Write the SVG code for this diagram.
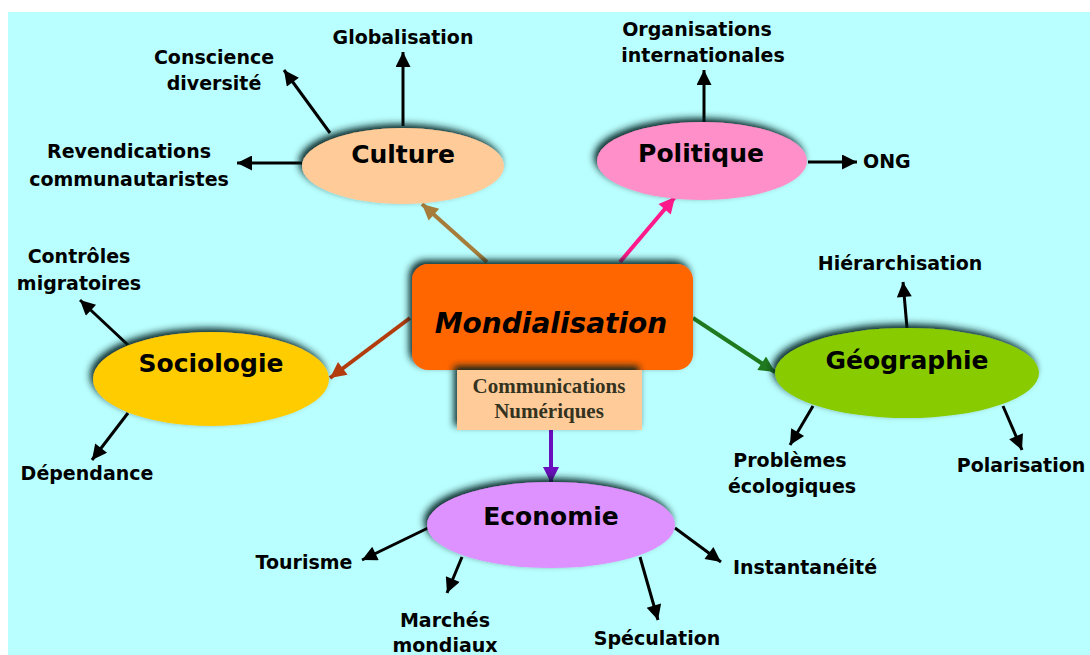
<svg xmlns="http://www.w3.org/2000/svg" width="1090" height="655" viewBox="0 0 1090 655">
<style>
.lbl{font-family:"DejaVu Sans","Liberation Sans",sans-serif;font-weight:bold;font-size:19px;fill:#000;text-anchor:middle}
.ttl{font-family:"DejaVu Sans","Liberation Sans",sans-serif;font-weight:bold;font-size:25px;fill:#000;text-anchor:middle}
.blk{stroke:#000;stroke-width:3;fill:none}
.col{stroke-width:4;fill:none}
</style>
<defs>
<filter id="sh" x="-20%" y="-40%" width="140%" height="170%">
<feGaussianBlur in="SourceAlpha" stdDeviation="3.5"/>
<feOffset dx="-3" dy="-4" result="b"/>
<feFlood flood-color="#001f1f" flood-opacity="0.95"/>
<feComposite in2="b" operator="in"/>
<feMerge><feMergeNode/><feMergeNode in="SourceGraphic"/></feMerge>
</filter>
<marker id="ak" viewBox="0 0 10 10" refX="10" refY="5" markerWidth="18" markerHeight="15" markerUnits="userSpaceOnUse" orient="auto"><path d="M0,0 L10,5 L0,10 z" fill="#000"/></marker>
<marker id="abr" viewBox="0 0 10 10" refX="10" refY="5" markerWidth="20" markerHeight="16" markerUnits="userSpaceOnUse" orient="auto"><path d="M0,0 L10,5 L0,10 z" fill="#A67C3A"/></marker>
<marker id="apk" viewBox="0 0 10 10" refX="10" refY="5" markerWidth="20" markerHeight="16" markerUnits="userSpaceOnUse" orient="auto"><path d="M0,0 L10,5 L0,10 z" fill="#FF1A8C"/></marker>
<marker id="ard" viewBox="0 0 10 10" refX="10" refY="5" markerWidth="20" markerHeight="16" markerUnits="userSpaceOnUse" orient="auto"><path d="M0,0 L10,5 L0,10 z" fill="#B33C0F"/></marker>
<marker id="agr" viewBox="0 0 10 10" refX="10" refY="5" markerWidth="20" markerHeight="16" markerUnits="userSpaceOnUse" orient="auto"><path d="M0,0 L10,5 L0,10 z" fill="#1F7A1F"/></marker>
<marker id="apu" viewBox="0 0 10 10" refX="10" refY="5" markerWidth="20" markerHeight="16" markerUnits="userSpaceOnUse" orient="auto"><path d="M0,0 L10,5 L0,10 z" fill="#6A0DBD"/></marker>
</defs>
<rect x="0" y="0" width="1090" height="655" fill="#fff"/>
<rect x="8" y="12" width="1082" height="643" fill="#B9FFFF"/>

<g id="connectors">
<line class="col" x1="487" y1="262" x2="422" y2="204" stroke="#A67C3A" marker-end="url(#abr)"/>
<line class="col" x1="620" y1="262" x2="675" y2="197" stroke="#FF1A8C" marker-end="url(#apk)"/>
<line class="col" x1="410" y1="318" x2="330" y2="378" stroke="#B33C0F" marker-end="url(#ard)"/>
<line class="col" x1="693" y1="318" x2="775" y2="372" stroke="#1F7A1F" marker-end="url(#agr)"/>
<line class="col" x1="551" y1="428" x2="551" y2="483" stroke="#6A0DBD" marker-end="url(#apu)"/>

<line class="blk" x1="403" y1="126" x2="403" y2="52" marker-end="url(#ak)"/>
<line class="blk" x1="330" y1="133" x2="284" y2="70" marker-end="url(#ak)"/>
<line class="blk" x1="302" y1="163" x2="237" y2="163" marker-end="url(#ak)"/>
<line class="blk" x1="704" y1="123" x2="704" y2="70" marker-end="url(#ak)"/>
<line class="blk" x1="808" y1="162" x2="857" y2="162" marker-end="url(#ak)"/>
<line class="blk" x1="128" y1="345" x2="80" y2="300" marker-end="url(#ak)"/>
<line class="blk" x1="128" y1="413" x2="92" y2="460" marker-end="url(#ak)"/>
<line class="blk" x1="907" y1="328" x2="903" y2="282" marker-end="url(#ak)"/>
<line class="blk" x1="813" y1="406" x2="790" y2="445" marker-end="url(#ak)"/>
<line class="blk" x1="1003" y1="406" x2="1022" y2="450" marker-end="url(#ak)"/>
<line class="blk" x1="428" y1="528" x2="362" y2="560" marker-end="url(#ak)"/>
<line class="blk" x1="462" y1="557" x2="447" y2="593" marker-end="url(#ak)"/>
<line class="blk" x1="640" y1="557" x2="658" y2="620" marker-end="url(#ak)"/>
<line class="blk" x1="675" y1="528" x2="721" y2="562" marker-end="url(#ak)"/>
</g>

<g id="mondialisation">
<rect x="412" y="264" width="281" height="106" rx="16" fill="#FF6600" filter="url(#sh)"/>
<text x="551" y="333" font-family="'DejaVu Sans','Liberation Sans',sans-serif" font-weight="bold" font-style="italic" font-size="28" text-anchor="middle" fill="#000">Mondialisation</text>
</g>

<g id="communications">
<rect x="457" y="370" width="185" height="60" fill="#FFCC99" filter="url(#sh)"/>
<text x="549" y="393" font-family="'Liberation Serif','DejaVu Serif',serif" font-weight="bold" font-size="21" text-anchor="middle" fill="#33331f">Communications</text>
<text x="549" y="418" font-family="'Liberation Serif','DejaVu Serif',serif" font-weight="bold" font-size="21" text-anchor="middle" fill="#33331f">Numériques</text>
</g>

<g id="culture">
<ellipse cx="403" cy="166" rx="101" ry="38" fill="#FFCC99" filter="url(#sh)"/>
<text class="ttl" x="403" y="163">Culture</text>
</g>
<g id="politique">
<ellipse cx="702" cy="161" rx="105" ry="39" fill="#FF8FC8" filter="url(#sh)"/>
<text class="ttl" x="701" y="162">Politique</text>
</g>
<g id="sociologie">
<ellipse cx="211" cy="379" rx="118" ry="47" fill="#FFCC00" filter="url(#sh)"/>
<text class="ttl" x="211" y="372">Sociologie</text>
</g>
<g id="geographie">
<ellipse cx="907" cy="373" rx="132" ry="45" fill="#88CC00" filter="url(#sh)"/>
<text class="ttl" x="907" y="369">Géographie</text>
</g>
<g id="economie">
<ellipse cx="551" cy="525" rx="124" ry="43" fill="#DD92FF" filter="url(#sh)"/>
<text class="ttl" x="551" y="525">Economie</text>
</g>

<g id="globalisation"><text class="lbl" x="403" y="44">Globalisation</text></g>
<g id="conscience"><text class="lbl" x="214" y="64">Conscience</text><text class="lbl" x="214" y="90">diversité</text></g>
<g id="revendications"><text class="lbl" x="129" y="158">Revendications</text><text class="lbl" x="129" y="186">communautaristes</text></g>
<g id="organisations"><text class="lbl" x="697" y="36">Organisations</text><text class="lbl" x="703" y="62">internationales</text></g>
<g id="ong"><text class="lbl" x="863" y="168" style="text-anchor:start">ONG</text></g>
<g id="controles"><text class="lbl" x="79" y="263">Contrôles</text><text class="lbl" x="79" y="290">migratoires</text></g>
<g id="dependance"><text class="lbl" x="87" y="480">Dépendance</text></g>
<g id="hierarchisation"><text class="lbl" x="900" y="270">Hiérarchisation</text></g>
<g id="problemes"><text class="lbl" x="790" y="467">Problèmes</text><text class="lbl" x="792" y="493">écologiques</text></g>
<g id="polarisation"><text class="lbl" x="1021" y="472">Polarisation</text></g>
<g id="tourisme"><text class="lbl" x="304" y="569">Tourisme</text></g>
<g id="marches"><text class="lbl" x="445" y="627">Marchés</text><text class="lbl" x="445" y="652">mondiaux</text></g>
<g id="speculation"><text class="lbl" x="657" y="645">Spéculation</text></g>
<g id="instantaneite"><text class="lbl" x="805" y="574">Instantanéité</text></g>
</svg>
